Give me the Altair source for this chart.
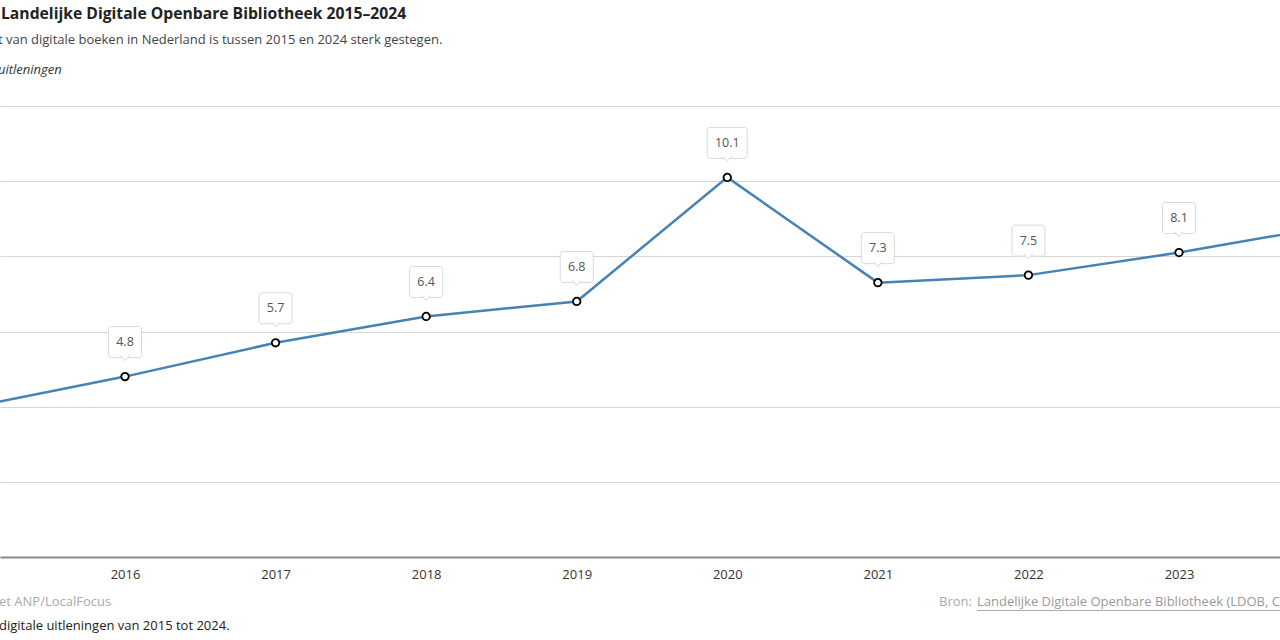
import altair as alt
import pandas as pd

# Digital loans per year (millions)
years = [2015, 2016, 2017, 2018, 2019, 2020, 2021, 2022, 2023, 2024]
loans = [4.0, 4.8, 5.7, 6.4, 6.8, 10.1, 7.3, 7.5, 8.1, 8.8]
tick_years = [2016, 2017, 2018, 2019, 2020, 2021, 2022, 2023]
grid_values = [0, 2, 4, 6, 8, 10, 12]

title_text = "Landelijke Digitale Openbare Bibliotheek 2015–2024"
subtitle_text = "t van digitale boeken in Nederland is tussen 2015 en 2024 sterk gestegen."
unit_text = "uitleningen"
credit_text = "et ANP/LocalFocus"
note_text = "digitale uitleningen van 2015 tot 2024."
source_label = "Bron:"
source_link = "Landelijke Digitale Openbare Bibliotheek (LDOB, C"

FONT = "Open Sans"
LINE_COLOR = "#4682b4"

df = pd.DataFrame({"year": years, "value": loans})

x_enc = alt.X(
    "year:Q",
    scale=alt.Scale(domain=[2015.1698, 2023.6708], nice=False, zero=False),
    axis=alt.Axis(
        values=tick_years, format="d", title=None, ticks=False, grid=False,
        domainColor="#8c8c8c", domainWidth=2, labelFont=FONT, labelFontSize=13,
        labelColor="#333333", labelPadding=11,
    ),
)
y_enc = alt.Y(
    "value:Q",
    scale=alt.Scale(domain=[0, 12], nice=False),
    axis=alt.Axis(
        values=grid_values, labels=False, ticks=False, domain=False, title=None,
        grid=True, gridColor="#d6d6d6", gridWidth=1,
    ),
)

base = alt.Chart(df).encode(x=x_enc, y=y_enc)

line = base.mark_line(color=LINE_COLOR, strokeWidth=2.5, clip=True)
dots = base.mark_point(
    shape="circle", size=56, filled=True, fill="white", stroke="black",
    strokeWidth=1.8, opacity=1, clip=True,
)

box_style = dict(fill="white", stroke="#d9d9d9", strokeWidth=1, cornerRadius=3,
                 yOffset=-50, y2Offset=-19, clip=True)
box_small = (
    base.transform_filter("datum.value < 10")
    .mark_rect(xOffset=-16.5, x2Offset=16.5, **box_style)
    .encode(x2="year:Q", y2="value:Q")
)
box_wide = (
    base.transform_filter("datum.value >= 10")
    .mark_rect(xOffset=-20, x2Offset=20, **box_style)
    .encode(x2="year:Q", y2="value:Q")
)
pointer = base.mark_point(
    shape="M-1,-0.7 L0,0.5 L1,-0.7", size=72, filled=True, fill="white",
    stroke="#d9d9d9", strokeWidth=1, opacity=1, yOffset=-18, clip=True,
)
value_text = base.mark_text(
    font=FONT, fontSize=12.5, color="#555555", dy=-34.5, baseline="middle", clip=True,
).encode(text=alt.Text("value:Q", format=".1f"))

one = pd.DataFrame({"k": [0]})


def note(text, x, y, size, color, weight="normal", style="normal"):
    return alt.Chart(one).mark_text(
        text=text, font=FONT, fontSize=size, color=color, fontWeight=weight,
        fontStyle=style, align="left", baseline="middle",
    ).encode(x=alt.value(x), y=alt.value(y))


# Header and footer texts sit in the padding around the plot area (top = 106 px)
title = note(title_text, 1, 14 - 106, 15.7, "#222222", weight="bold")
subtitle = note(subtitle_text, -2, 40 - 106, 13, "#444444")
unit = note(unit_text, -2, 70 - 106, 13, "#333333", style="italic")
credit = note(credit_text, -1, 602 - 106, 13, "#aaaaaa")
footnote = note(note_text, -1, 626 - 106, 13, "#222222")
source = note(source_label, 939, 602 - 106, 13, "#aaaaaa")
link = note(source_link, 977, 602 - 106, 13, "#999999")
underline = alt.Chart(one).mark_rule(color="#aaaaaa", strokeWidth=1).encode(
    x=alt.value(977), x2=alt.value(1290), y=alt.value(610.5 - 106)
)

chart = alt.layer(
    line, dots, box_small, box_wide, pointer, value_text,
    title, subtitle, unit, credit, footnote, source, link, underline,
).properties(
    width=1280,
    height=451,
    padding={"left": 0, "top": 106, "right": 0, "bottom": 83},
    autosize=alt.AutoSizeParams(type="none"),
    background="white",
).configure_view(stroke=None)

chart.save("out.html", embed_options={"renderer": "svg", "actions": False})
